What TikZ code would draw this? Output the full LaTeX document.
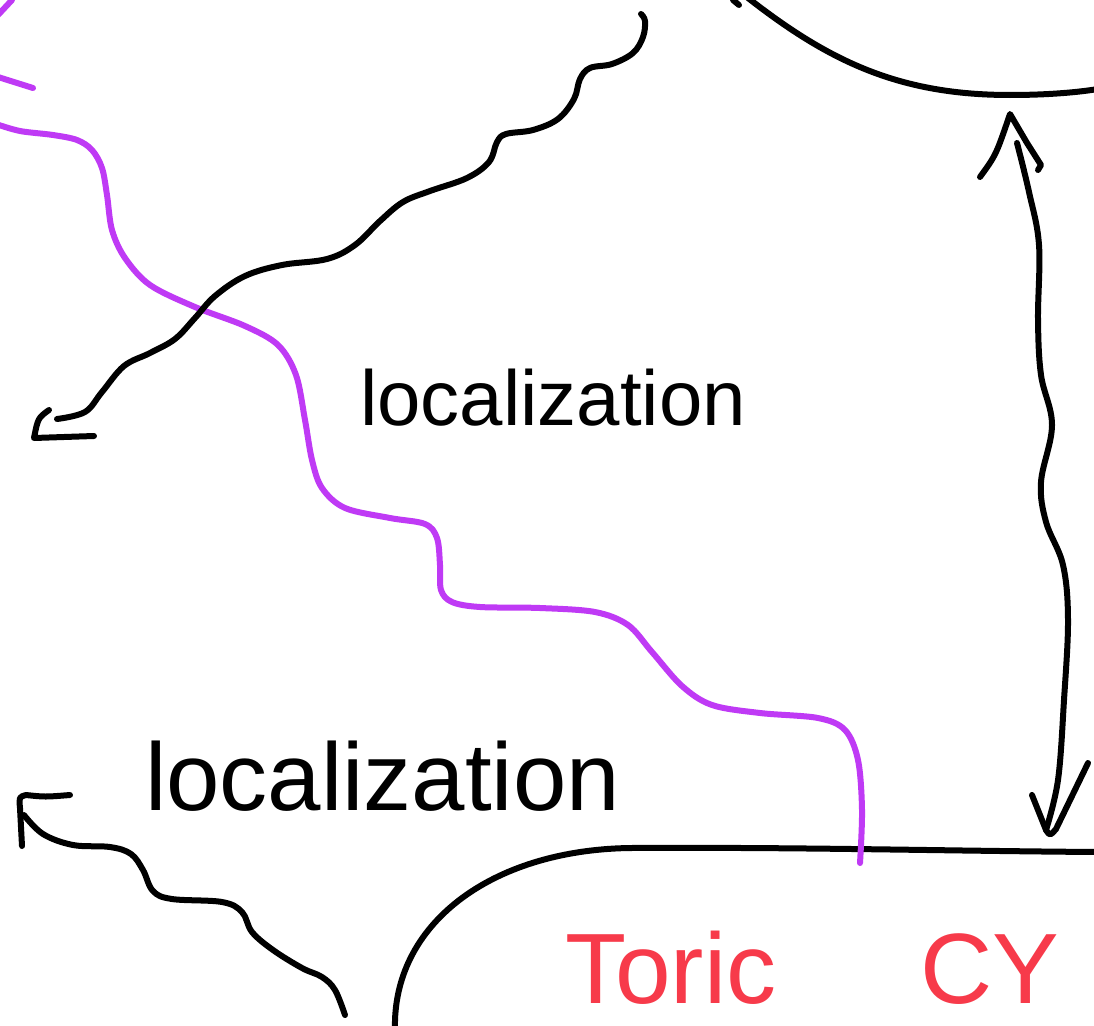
\documentclass[tikz,border=0pt]{standalone}
\usepackage{fontspec}
\setmainfont{Liberation Sans}
\definecolor{penred}{RGB}{247,58,74}
\definecolor{penpurple}{RGB}{191,58,245}
\tikzset{
  ink/.style={line width=6pt, line cap=round, line join=round, black},
  purpleink/.style={line width=6pt, line cap=round, line join=round, penpurple},
  handtext/.style={anchor=base west, inner sep=0pt, black},
  redtext/.style={anchor=base west, inner sep=0pt, penred},
}
\begin{document}
\begin{tikzpicture}[x=1pt,y=-1pt]
\useasboundingbox (0,0) rectangle (1094,1025);
\fill[white] (0,0) rectangle (1094,1025);
\clip (0,0) rectangle (1094,1025);

% top-right blob edge
\draw[ink] (748,-2) .. controls (830,62) and (900,95) .. (1010,95) .. controls (1050,95) and (1080,92) .. (1098,89);
\draw[ink] (733,0) -- (739,5);

% bottom rounded box
\draw[ink] (395,1030) .. controls (392,925) and (490,850) .. (630,848) .. controls (800,847) and (950,851) .. (1098,852);

% purple curve and fragments
\draw[purpleink] plot[smooth, tension=0.55] coordinates {(-4,124) (20,131) (53,135) (77,140) (92,150) (102,168) (107,195) (112,230) (125,258) (150,285) (195,307) (245,326) (278,345) (296,375) (305,420) (312,460) (322,488) (345,508) (390,518) (425,524) (437,538) (440,565) (441,590) (452,602) (480,607) (540,608) (595,612) (628,625) (652,652) (682,686) (712,705) (760,713) (818,718) (845,730) (858,760) (862,810) (860,863)};
\draw[purpleink] (-2,15) -- (12,0);
\draw[purpleink] (-2,77) -- (33,88);

% upper-left wavy arrow
\draw[ink] plot[smooth, tension=0.6] coordinates {(641,14) (645,21) (643,37) (633,53) (612,64) (590,68) (580,79) (574,99) (558,119) (533,130) (506,134) (497,142) (489,162) (467,178) (430,191) (403,202) (380,221) (355,245) (327,259) (282,265) (245,276) (215,296) (195,318) (175,339) (150,353) (124,366) (102,392) (85,412) (57,419)};
\draw[ink] (49,410) .. controls (38,418) .. (34,438) -- (94,436);

% text labels
\node[handtext, font=\fontsize{78}{90}\selectfont] (loc1) at (360,425) {localization};
\node[handtext, font=\fontsize{96}{110}\selectfont] (loc2) at (145,810) {localization};
\node[redtext, font=\fontsize{100}{115}\selectfont] (toric) at (565,1003) {Toric};
\node[redtext, font=\fontsize{100}{115}\selectfont] (cy) at (920,1003) {CY};

% bottom-left wavy arrow
\draw[ink] plot[smooth, tension=0.6] coordinates {(345,1015) (335,990) (322,977) (302,968) (273,950) (252,932) (242,912) (222,902) (172,899) (153,891) (143,870) (131,854) (110,847) (73,845) (43,834) (24,815)};
\draw[ink] (22,846) -- (20,808) .. controls (19,797) .. (26,795) .. controls (45,797) .. (70,795);

% right double-headed wavy arrow
\draw[ink] plot[smooth, tension=0.6] coordinates {(1017,143) (1029,192) (1039,245) (1038,320) (1041,375) (1052,425) (1041,482) (1046,522) (1063,565) (1068,620) (1064,700) (1058,780) (1046,830)};
\draw[ink] (980,177) .. controls (996,155) .. (1010,114) -- (1027,143) -- (1041,165) -- (1038,170);
\draw[ink] (1032,795) -- (1046,830) .. controls (1050,836) .. (1056,829) -- (1088,763);
\end{tikzpicture}
\end{document}
